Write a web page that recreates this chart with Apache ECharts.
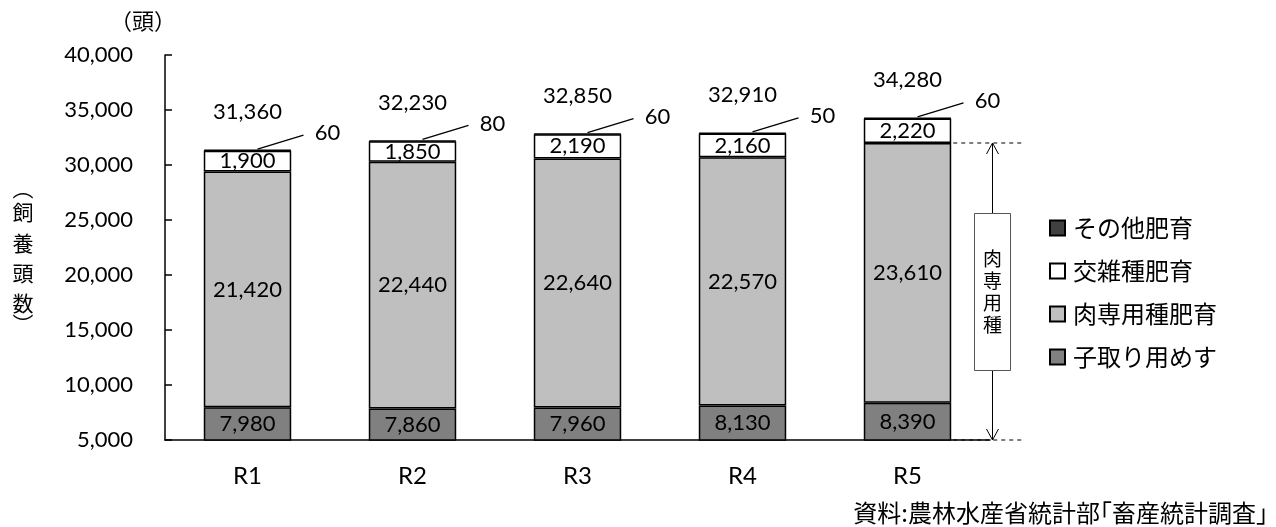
<!DOCTYPE html>
<html>
<head>
<meta charset="utf-8">
<script src="https://cdn.jsdelivr.net/npm/echarts@6/dist/echarts.min.js"></script>
<style>
  html, body { margin: 0; padding: 0; background: #fff; }
  #chart { width: 1276px; height: 527px; }
</style>
</head>
<body>
<div id="chart"></div>
<script>
// データ（頭）
const categories = ['R1', 'R2', 'R3', 'R4', 'R5'];
const breedingCows = [7980, 7860, 7960, 8130, 8390];        // 子取り用めす
const beefFattening = [21420, 22440, 22640, 22570, 23610];  // 肉専用種肥育
const crossFattening = [1900, 1850, 2190, 2160, 2220];      // 交雑種肥育
const otherFattening = [60, 80, 60, 50, 60];                // その他肥育
const yMin = 5000;
const yMax = 40000;
const yStep = 5000;

const totals = categories.map((c, i) =>
  breedingCows[i] + beefFattening[i] + crossFattening[i] + otherFattening[i]);

const NUM_FONT = 'Lato, "Noto Sans", sans-serif';
const JP_FONT = '"Noto Sans CJK JP", sans-serif';
const fmt = v => Number(v).toLocaleString('en-US');
const BAR_WIDTH = 0.53;

const barItem = color => ({ color: color, borderColor: '#000', borderWidth: 1.5 });
const insideLabel = {
  show: true,
  position: 'inside',
  color: '#000',
  fontFamily: NUM_FONT,
  fontSize: 22,
  formatter: p => fmt(p.value)
};

// 合計・その他のラベル、カテゴリ名と「肉専用種」の注記
function renderNotes(params, api) {
  const i = api.value(0);
  const top = api.coord([i, api.value(1)]);
  const base = api.coord([i, yMin])[1];
  const band = api.size([1, 0])[0];
  const x = top[0];
  const y = top[1];
  const children = [
    {
      type: 'text',
      style: { text: fmt(api.value(1)), x: x, y: y - 38, align: 'center', verticalAlign: 'middle',
        fontFamily: NUM_FONT, fontSize: 22, fill: '#000' }
    },
    {
      type: 'line',
      shape: { x1: x + 10, y1: y - 1, x2: x + 56, y2: y - 15 },
      style: { stroke: '#000', lineWidth: 1.3 }
    },
    {
      type: 'text',
      style: { text: fmt(api.value(3)), x: x + 80, y: y - 17, align: 'center', verticalAlign: 'middle',
        fontFamily: NUM_FONT, fontSize: 22, fill: '#000' }
    },
    {
      type: 'text',
      style: { text: categories[i], x: x, y: base + 36, align: 'center', verticalAlign: 'middle',
        fontFamily: NUM_FONT, fontSize: 24, fill: '#000' }
    }
  ];
  if (i === categories.length - 1) {
    const meatTop = api.coord([i, api.value(2)])[1];
    const barRight = x + band * BAR_WIDTH / 2;
    const ax = x + 85;
    const mid = (meatTop + base) / 2;
    const dash = { stroke: '#000', lineWidth: 1, lineDash: [4, 4] };
    children.push(
      { type: 'line', shape: { x1: barRight + 2, y1: meatTop, x2: x + 114, y2: meatTop }, style: dash },
      { type: 'line', shape: { x1: barRight + 2, y1: base, x2: x + 114, y2: base }, style: dash },
      { type: 'line', shape: { x1: ax, y1: meatTop, x2: ax, y2: base }, style: { stroke: '#000', lineWidth: 1 } },
      { type: 'polyline', shape: { points: [[ax - 6, meatTop + 11], [ax, meatTop], [ax + 6, meatTop + 11]] },
        style: { stroke: '#000', lineWidth: 1, fill: null } },
      { type: 'polyline', shape: { points: [[ax - 6, base - 11], [ax, base], [ax + 6, base - 11]] },
        style: { stroke: '#000', lineWidth: 1, fill: null } },
      { type: 'rect', shape: { x: ax - 18, y: mid - 78, width: 36, height: 157 },
        style: { fill: '#fff', stroke: '#555', lineWidth: 1 } },
      { type: 'text',
        style: { text: '肉\n専\n用\n種', x: ax, y: mid, align: 'center', verticalAlign: 'middle',
          fontFamily: JP_FONT, fontSize: 19, lineHeight: 22, fill: '#000' } }
    );
  }
  return { type: 'group', children: children };
}

const chart = echarts.init(document.getElementById('chart'));

const vChar = (ch, y) => ({
  type: 'text', x: 23, y: y,
  style: { text: ch, fontFamily: JP_FONT, fontSize: 21, fill: '#000', align: 'center', verticalAlign: 'middle' }
});

const option = {
  animation: false,
  backgroundColor: '#fff',
  grid: { left: 165, right: 286, top: 55, bottom: 87, containLabel: false },
  legend: {
    orient: 'vertical',
    left: 1044,
    top: 211,
    itemWidth: 15,
    itemHeight: 15,
    itemGap: 19,
    icon: 'rect',
    selectedMode: false,
    data: ['その他肥育', '交雑種肥育', '肉専用種肥育', '子取り用めす'],
    textStyle: { fontFamily: JP_FONT, fontSize: 24, color: '#000', padding: [0, 0, 0, 3] }
  },
  xAxis: {
    type: 'category',
    data: categories,
    axisLine: { lineStyle: { color: '#000', width: 1.5 } },
    axisTick: { show: false },
    axisLabel: { show: false }
  },
  yAxis: {
    type: 'value',
    min: yMin,
    max: yMax,
    interval: yStep,
    splitLine: { show: false },
    axisLine: { show: true, lineStyle: { color: '#000', width: 1.5 } },
    axisTick: { show: true, inside: true, length: 7, lineStyle: { color: '#000', width: 1.5 } },
    axisLabel: { color: '#000', fontFamily: NUM_FONT, fontSize: 22, margin: 32, formatter: v => fmt(v) }
  },
  graphic: [
    { type: 'text', left: 110, top: 10,
      style: { text: '（頭）', fontFamily: JP_FONT, fontSize: 22, fill: '#000' } },
    vChar('︵', 188),
    vChar('飼', 212),
    vChar('養', 243),
    vChar('頭', 273),
    vChar('数', 303),
    vChar('︶', 324),
    { type: 'text', right: 8, bottom: 2,
      style: { text: '資料:農林水産省統計部｢畜産統計調査｣', fontFamily: JP_FONT, fontSize: 24, fill: '#000' } }
  ],
  series: [
    {
      name: '子取り用めす', type: 'bar', stack: 'total', barWidth: (BAR_WIDTH * 100) + '%',
      itemStyle: barItem('#808080'), label: insideLabel, data: breedingCows
    },
    {
      name: '肉専用種肥育', type: 'bar', stack: 'total',
      itemStyle: barItem('#bfbfbf'), label: insideLabel, data: beefFattening
    },
    {
      name: '交雑種肥育', type: 'bar', stack: 'total',
      itemStyle: barItem('#ffffff'), label: insideLabel, data: crossFattening
    },
    {
      name: 'その他肥育', type: 'bar', stack: 'total',
      itemStyle: barItem('#404040'), label: { show: false }, data: otherFattening
    },
    {
      name: 'notes', type: 'custom', coordinateSystem: 'cartesian2d', silent: true, z: 10,
      clip: false,
      encode: { x: 0, y: 1 },
      renderItem: renderNotes,
      data: categories.map((c, i) => [i, totals[i], breedingCows[i] + beefFattening[i], otherFattening[i]])
    }
  ]
};

chart.setOption(option);
</script>
</body>
</html>
